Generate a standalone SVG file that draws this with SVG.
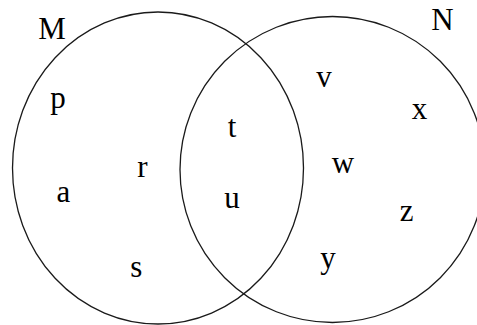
<svg xmlns="http://www.w3.org/2000/svg" width="477" height="325" viewBox="0 0 477 325">
<style>
.set{fill:none;stroke:#1a1a1a;stroke-width:1.3}
.lbl{font-family:"Liberation Serif","Times New Roman",serif;font-size:31px;fill:#000;text-anchor:middle}
</style>
<rect width="477" height="325" fill="#fff"/>
<g id="set-M">
<ellipse class="set" cx="158" cy="168" rx="145.5" ry="156"/>
<text class="lbl" x="52" y="39">M</text>
</g>
<g id="set-N">
<ellipse class="set" cx="332.5" cy="169.5" rx="152.5" ry="153"/>
<text class="lbl" x="442.5" y="30">N</text>
</g>
<g id="elements">
<text class="lbl" x="58" y="108">p</text>
<text class="lbl" x="142.5" y="177">r</text>
<text class="lbl" x="63.5" y="201.5">a</text>
<text class="lbl" x="136.3" y="277">s</text>
<text class="lbl" x="232" y="137">t</text>
<text class="lbl" x="232" y="208">u</text>
<text class="lbl" x="324" y="87">v</text>
<text class="lbl" x="419.5" y="119">x</text>
<text class="lbl" x="343" y="173">w</text>
<text class="lbl" x="406.7" y="220.5">z</text>
<text class="lbl" x="328" y="268">y</text>
</g>
</svg>
